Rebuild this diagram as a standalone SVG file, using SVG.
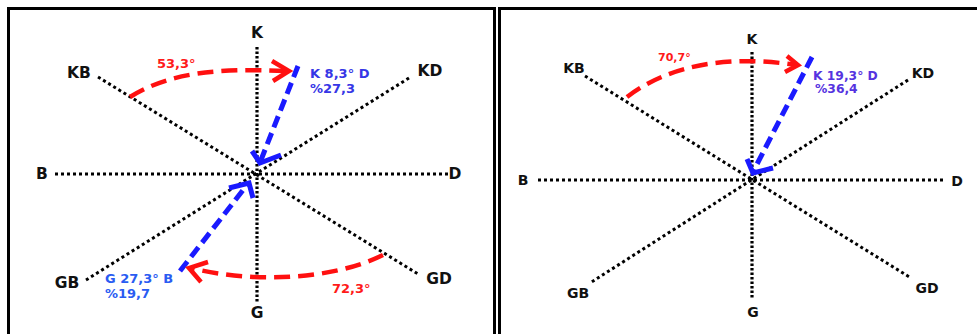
<svg xmlns="http://www.w3.org/2000/svg" width="977" height="334" viewBox="0 0 977 334">
<style>
.frame{fill:none;stroke:#000;stroke-width:3}
.dot{stroke:#000;stroke-width:3;stroke-dasharray:3 3;fill:none}
.vdot{stroke:#000;stroke-width:3.2;stroke-dasharray:2.5 2;fill:none}
.red{stroke:#ff1010;stroke-width:4.5;fill:none;stroke-dasharray:16 8}
.redh{stroke:#ff1010;stroke-width:4.5;fill:none;stroke-linecap:butt;stroke-linejoin:miter}
.blue{stroke:#1a1aff;stroke-width:5;fill:none;stroke-dasharray:12 6}
.blueh{stroke:#1a1aff;stroke-width:5;fill:none;stroke-linejoin:miter}
.lab{font-family:"DejaVu Sans","Liberation Sans",sans-serif;font-weight:bold;font-size:15.5px;fill:#111;text-anchor:middle}
.lab2{font-family:"DejaVu Sans","Liberation Sans",sans-serif;font-weight:bold;font-size:14px;fill:#111;text-anchor:middle}
.rt{font-family:"DejaVu Sans","Liberation Sans",sans-serif;font-weight:bold;font-size:13px;fill:#ff1a1a}
.bt{font-family:"DejaVu Sans","Liberation Sans",sans-serif;font-weight:bold;font-size:13px}
</style>
<rect width="977" height="334" fill="#fff"/>
<g id="frames">
<path class="frame" d="M8.5,340 V8.5 H494.5 V340"/>
<path class="frame" d="M499.5,340 V8.5 H990"/>
</g>
<g id="axes-left">
<line class="vdot" x1="257" y1="47" x2="257" y2="302"/>
<line class="dot" x1="55" y1="174" x2="450" y2="174"/>
<line class="dot" x1="98" y1="77" x2="418" y2="274"/>
<line class="dot" x1="409" y1="78" x2="86" y2="280"/>
</g>
<g id="axes-right">
<line class="vdot" x1="752" y1="52" x2="752" y2="298"/>
<line class="dot" x1="538" y1="180" x2="943" y2="180"/>
<line class="dot" x1="585" y1="76" x2="911" y2="278"/>
<line class="dot" x1="908" y1="80" x2="590" y2="283"/>
</g>
<g id="connectors">
<path class="red" d="M130,97 C170,72 220,68 285,71"/>
<polyline class="redh" points="272,61 289,71 273,81"/>
<path class="blue" d="M298,66 L261,160"/>
<polyline class="blueh" points="252,151 260,163 281,155"/>
<path class="blue" d="M180,271 L247,185"/>
<polyline class="blueh" points="229,188 249,183 253,198"/>
<path class="red" d="M383,255 C330,281 250,283 191,268"/>
<polyline class="redh" points="208,262 189,268 201,282"/>
<path class="red" d="M627,97 C670,64 730,55 796,65"/>
<polyline class="redh" points="787,56 798,65 785,72"/>
<path class="blue" d="M812,57 L754,170"/>
<polyline class="blueh" points="747,159 753,173 773,168"/>
</g>
<g id="labels-left">
<g id="L-K"><text class="lab" x="257" y="38">K</text></g>
<g id="L-G"><text class="lab" x="257" y="318">G</text></g>
<g id="L-B"><text class="lab" x="42" y="179">B</text></g>
<g id="L-D"><text class="lab" x="455" y="179">D</text></g>
<g id="L-KB"><text class="lab" x="79" y="78">KB</text></g>
<g id="L-KD"><text class="lab" x="430" y="76">KD</text></g>
<g id="L-GB"><text class="lab" x="67" y="288">GB</text></g>
<g id="L-GD"><text class="lab" x="439" y="284">GD</text></g>
<g id="L-a1"><text class="rt" x="157" y="68">53,3°</text></g>
<g id="L-a2"><text class="rt" x="332" y="293">72,3°</text></g>
<g id="L-v1"><text class="bt" fill="#3636e6" x="310" y="78">K 8,3° D</text><text class="bt" fill="#3636e6" x="310" y="93">%27,3</text></g>
<g id="L-v2"><text class="bt" fill="#2a5cf2" x="105" y="283">G 27,3° B</text><text class="bt" fill="#2a5cf2" x="105" y="298">%19,7</text></g>
</g>
<g id="labels-right">
<g id="R-K"><text class="lab2" x="752" y="44">K</text></g>
<g id="R-G"><text class="lab2" x="753" y="317">G</text></g>
<g id="R-B"><text class="lab2" x="523" y="185">B</text></g>
<g id="R-D"><text class="lab2" x="957" y="186">D</text></g>
<g id="R-KB"><text class="lab2" x="574" y="73">KB</text></g>
<g id="R-KD"><text class="lab2" x="923" y="78">KD</text></g>
<g id="R-GB"><text class="lab2" x="578" y="298">GB</text></g>
<g id="R-GD"><text class="lab2" x="927" y="293">GD</text></g>
<g id="R-a1"><text class="rt" style="font-size:11px" x="658" y="61">70,7°</text></g>
<g id="R-v1"><text class="bt" style="font-size:12.3px" fill="#5533e0" x="813" y="80">K 19,3° D</text><text class="bt" style="font-size:12.3px" fill="#5533e0" x="815" y="93">%36,4</text></g>
</g>
</svg>
